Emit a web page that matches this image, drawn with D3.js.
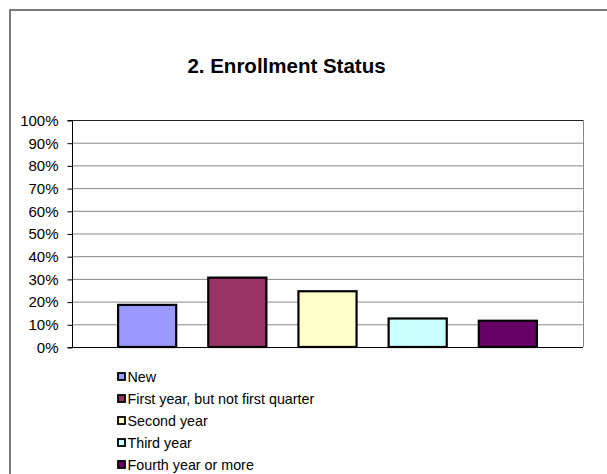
<!DOCTYPE html>
<html>
<head>
<meta charset="utf-8">
<script src="https://cdn.jsdelivr.net/npm/d3@7"></script>
<style>
  html, body { margin: 0; padding: 0; background: #fff; }
  svg { display: block; font-family: Arial, "Liberation Sans", sans-serif; }
</style>
</head>
<body>
<svg id="chart" width="607" height="474"></svg>
<script>
const title = "2. Enrollment Status";
const seriesNames = ["New", "First year, but not first quarter", "Second year", "Third year", "Fourth year or more"];
const seriesValues = [19, 31, 25, 13, 12];
const seriesColors = ["#9999FF", "#993366", "#FFFFCC", "#CCFFFF", "#660066"];
const yTicks = [0, 10, 20, 30, 40, 50, 60, 70, 80, 90, 100];

const svg = d3.select("#chart");
const plot = { left: 72, right: 583, top: 120, bottom: 347 };

// outer chart border
svg.append("rect")
  .attr("x", 10).attr("y", 10)
  .attr("width", 620).attr("height", 480)
  .attr("fill", "none").attr("stroke", "#505050").attr("stroke-width", 1.5);

// title
svg.append("text")
  .attr("x", 286.5).attr("y", 73)
  .attr("text-anchor", "middle")
  .attr("font-weight", "bold")
  .attr("font-size", "20.5px")
  .attr("fill", "#000")
  .text(title);

const y = d3.scaleLinear().domain([0, 100]).range([plot.bottom, plot.top]);
const x = d3.scaleBand().domain(seriesNames)
  .range([plot.left, plot.right])
  .paddingInner(1 / 3).paddingOuter(0.5);

// gridlines
svg.append("g").selectAll("line")
  .data(yTicks.filter(d => d > 0))
  .join("line")
  .attr("x1", plot.left).attr("x2", plot.right)
  .attr("y1", d => y(d) + 0.5).attr("y2", d => y(d) + 0.5)
  .attr("stroke", d => d === 100 ? "#202020" : "#888")
  .attr("stroke-width", 1);

// right border of plot
svg.append("line")
  .attr("x1", plot.right + 0.5).attr("x2", plot.right + 0.5)
  .attr("y1", plot.top).attr("y2", plot.bottom)
  .attr("stroke", "#888");

// y axis
const yAxis = d3.axisLeft(y).tickValues(yTicks)
  .tickFormat(d => d + "%").tickSize(5).tickPadding(9);
const gy = svg.append("g")
  .attr("transform", `translate(${plot.left + 0.5},0.5)`)
  .call(yAxis);
gy.select(".domain").attr("stroke", "#000").attr("d", `M-5,${plot.top}H0V${plot.bottom}H-5`);
gy.selectAll(".tick line").attr("stroke", "#000");
gy.selectAll(".tick text")
  .attr("font-size", "15px")
  .attr("fill", "#000")
  .attr("font-family", "Arial, 'Liberation Sans', sans-serif");

// bars
svg.append("g").selectAll("rect")
  .data(seriesNames.map((n, i) => ({ name: n, value: seriesValues[i], color: seriesColors[i] })))
  .join("rect")
  .attr("x", d => x(d.name) + 1)
  .attr("y", d => y(d.value) + 1)
  .attr("width", x.bandwidth() - 2)
  .attr("height", d => y(0) - y(d.value) - 1)
  .attr("fill", d => d.color)
  .attr("stroke", "#000")
  .attr("stroke-width", 2.2);

// x axis baseline
svg.append("line")
  .attr("x1", plot.left).attr("x2", plot.right)
  .attr("y1", plot.bottom + 0.5).attr("y2", plot.bottom + 0.5)
  .attr("stroke", "#000");

// legend
const legend = svg.append("g").attr("transform", "translate(117,376.5)");
const items = legend.selectAll("g")
  .data(seriesNames.map((n, i) => ({ name: n, color: seriesColors[i] })))
  .join("g")
  .attr("transform", (d, i) => `translate(0,${i * 22})`);
items.append("rect")
  .attr("x", 1).attr("y", -3.5)
  .attr("width", 7).attr("height", 7)
  .attr("fill", d => d.color)
  .attr("stroke", "#000").attr("stroke-width", 1.8);
items.append("text")
  .attr("x", 10.5).attr("y", 0)
  .attr("dy", "0.35em")
  .attr("font-size", "14.3px")
  .attr("fill", "#000")
  .text(d => d.name);
</script>
</body>
</html>
